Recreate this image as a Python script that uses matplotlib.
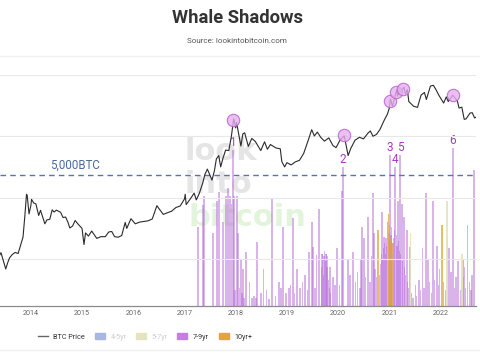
import pandas as pd
import matplotlib
matplotlib.use("Agg")
import matplotlib.pyplot as plt
import matplotlib.dates as mdates
from matplotlib.lines import Line2D
from matplotlib.patches import Patch

plt.rcParams["font.family"] = ["Roboto", "DejaVu Sans"]

# BTC price (USD)
price_dates = [
    "2013-05-25", "2013-06-01", "2013-06-15", "2013-07-05", "2013-07-20", "2013-08-01", "2013-08-20",
    "2013-09-10", "2013-10-01", "2013-10-20", "2013-11-05", "2013-11-18", "2013-11-30", "2013-12-05",
    "2013-12-18", "2013-12-31", "2014-01-05", "2014-01-20", "2014-02-05", "2014-02-25", "2014-03-10",
    "2014-03-31", "2014-04-10", "2014-04-25", "2014-05-15", "2014-06-01", "2014-06-15", "2014-07-01",
    "2014-07-31", "2014-08-18", "2014-09-05", "2014-09-22", "2014-10-05", "2014-10-25", "2014-11-12",
    "2014-12-01", "2014-12-31", "2015-01-14", "2015-01-25", "2015-02-15", "2015-03-10", "2015-04-01",
    "2015-04-15", "2015-05-15", "2015-06-15", "2015-07-10", "2015-07-31", "2015-08-20", "2015-09-15",
    "2015-10-10", "2015-11-04", "2015-11-15", "2015-12-15", "2016-01-15", "2016-02-15", "2016-03-15",
    "2016-04-15", "2016-05-15", "2016-06-17", "2016-07-01", "2016-08-02", "2016-08-31", "2016-09-30",
    "2016-10-31", "2016-11-30", "2016-12-31", "2017-01-05", "2017-01-12", "2017-02-15", "2017-03-10",
    "2017-03-25", "2017-04-15", "2017-05-10", "2017-05-25", "2017-06-12", "2017-07-15", "2017-08-01",
    "2017-08-15", "2017-09-01", "2017-09-15", "2017-10-01", "2017-10-20", "2017-11-12", "2017-11-30",
    "2017-12-17", "2017-12-31", "2018-01-06", "2018-01-20", "2018-02-06", "2018-02-20", "2018-03-05",
    "2018-03-31", "2018-04-25", "2018-05-20", "2018-06-28", "2018-07-25", "2018-08-14", "2018-09-05",
    "2018-10-15", "2018-11-14", "2018-11-25", "2018-12-15", "2018-12-31", "2019-01-31", "2019-02-28",
    "2019-03-31", "2019-04-30", "2019-05-31", "2019-06-26", "2019-07-15", "2019-08-05", "2019-08-31",
    "2019-09-25", "2019-10-26", "2019-11-25", "2019-12-17", "2020-01-15", "2020-02-13", "2020-03-12",
    "2020-03-31", "2020-04-30", "2020-05-31", "2020-06-30", "2020-07-31", "2020-08-17", "2020-09-05",
    "2020-09-30", "2020-10-25", "2020-11-25", "2020-12-17", "2020-12-31", "2021-01-08", "2021-01-22",
    "2021-02-21", "2021-02-28", "2021-03-13", "2021-03-25", "2021-04-14", "2021-04-25", "2021-05-08",
    "2021-05-19", "2021-06-22", "2021-07-20", "2021-08-14", "2021-09-07", "2021-09-21", "2021-10-20",
    "2021-11-10", "2021-11-30", "2021-12-20", "2022-01-22", "2022-02-10", "2022-02-24", "2022-03-28",
    "2022-04-30", "2022-05-12", "2022-06-01", "2022-06-18", "2022-07-01", "2022-07-29", "2022-08-14",
    "2022-08-31", "2022-09-08",
]
price_usd = [
    120, 129, 100, 70, 90, 106, 120,
    130, 125, 175, 230, 500, 1150, 1100,
    550, 750, 950, 830, 800, 520, 630,
    450, 380, 440, 450, 640, 590, 635,
    585, 480, 490, 400, 325, 350, 430,
    380, 320, 175, 270, 240, 290, 245,
    220, 235, 235, 280, 285, 235, 230,
    245, 400, 320, 460, 380, 405, 415,
    425, 455, 750, 675, 540, 575, 610,
    700, 740, 965, 1150, 780, 1000, 1200,
    930, 1180, 1750, 2400, 2950, 1950, 2750,
    4300, 4900, 3200, 4400, 6000, 5900, 10000,
    19500, 13800, 17000, 11500, 7000, 11000, 11500,
    6900, 9300, 8300, 5900, 8200, 6200, 7400,
    6500, 6300, 3900, 3200, 3750, 3450, 3850,
    4100, 5300, 8500, 12900, 10200, 11800, 9600,
    8400, 9500, 7100, 6600, 8800, 10300, 4900,
    6400, 8700, 9700, 9150, 11300, 12300, 10100,
    10800, 13000, 18500, 23000, 29000, 41000, 31000,
    57000, 45000, 61000, 52000, 63500, 49000, 58000,
    37000, 31000, 29800, 47000, 52000, 40000, 66000,
    68000, 57000, 46500, 35000, 44000, 37000, 47000,
    38000, 29000, 30000, 19000, 19300, 24000, 24400,
    20000, 20500,
]

# whale shadow bars (BTC moved), 7-9yr cohort
bars_79_dates = [
    "2017-04-06", "2017-05-12", "2017-05-19", "2017-07-22", "2017-08-19", "2017-09-03", "2017-10-01",
    "2017-10-22", "2017-11-06", "2017-11-20", "2017-12-01", "2017-12-12", "2017-12-19", "2017-12-26",
    "2018-01-09", "2018-01-16", "2018-01-25", "2018-02-07", "2018-02-14", "2018-02-21", "2018-03-01",
    "2018-03-14", "2018-04-11", "2018-04-26", "2018-05-10", "2018-05-25", "2018-06-01", "2018-06-29",
    "2018-07-20", "2018-08-08", "2018-08-25", "2018-09-16", "2018-10-10", "2018-11-04", "2018-11-20",
    "2018-12-03", "2018-12-24", "2019-01-15", "2019-01-28", "2019-02-13", "2019-02-26", "2019-03-13",
    "2019-04-03", "2019-04-20", "2019-05-09", "2019-05-25", "2019-06-07", "2019-06-28", "2019-07-05",
    "2019-07-20", "2019-08-02", "2019-08-17", "2019-09-02", "2019-09-07", "2019-09-12", "2019-09-16",
    "2019-09-21", "2019-09-26", "2019-09-30", "2019-10-06", "2019-10-10", "2019-10-14", "2019-10-19",
    "2019-10-24", "2019-10-29", "2019-11-03", "2019-11-08", "2019-11-26", "2019-12-10", "2019-12-23",
    "2020-01-10", "2020-01-28", "2020-02-04", "2020-03-11", "2020-03-25", "2020-04-16", "2020-05-05",
    "2020-05-20", "2020-06-05", "2020-06-12", "2020-06-19", "2020-07-03", "2020-07-15", "2020-07-31",
    "2020-08-15", "2020-08-25", "2020-09-06", "2020-09-12", "2020-09-20", "2020-10-01", "2020-10-20",
    "2020-10-28", "2020-11-03", "2020-11-08", "2020-11-14", "2020-11-18", "2020-11-23", "2020-11-28",
    "2020-12-03", "2020-12-08", "2020-12-13", "2020-12-28", "2021-01-02", "2021-01-05", "2021-01-12",
    "2021-01-17", "2021-01-20", "2021-02-01", "2021-02-05", "2021-02-10", "2021-02-18", "2021-02-23",
    "2021-03-03", "2021-03-08", "2021-03-12", "2021-03-17", "2021-03-22", "2021-03-31", "2021-04-05",
    "2021-04-15", "2021-04-20", "2021-04-25", "2021-05-06", "2021-05-12", "2021-05-18", "2021-05-27",
    "2021-06-05", "2021-06-18", "2021-07-05", "2021-07-15", "2021-07-30", "2021-08-10", "2021-08-25",
    "2021-09-05", "2021-09-18", "2021-10-03", "2021-10-15", "2021-10-25", "2021-11-07", "2021-11-20",
    "2021-12-06", "2021-12-15", "2021-12-25", "2022-01-20", "2022-02-05", "2022-03-01", "2022-03-15",
    "2022-03-30", "2022-04-10", "2022-04-20", "2022-05-05", "2022-05-20", "2022-06-01", "2022-06-20",
    "2022-06-28", "2022-07-14", "2022-07-25", "2022-08-05", "2022-08-12", "2022-08-26",
]
bars_79_btc = [
    3000, 3850, 4200, 2800, 4000, 4350, 3200,
    4200, 4500, 4200, 3900, 5950, 4200, 600,
    4200, 2800, 700, 1750, 500, 1400, 300,
    2050, 900, 300, 400, 300, 2450, 500,
    1400, 600, 250, 4100, 400, 900, 700,
    3000, 500, 700, 800, 3350, 500, 1400,
    700, 900, 1200, 600, 2050, 3200, 2250,
    700, 1950, 3700, 1500, 2000, 2000, 1200,
    1900, 2100, 1700, 2000, 2000, 1500, 1900,
    1000, 700, 1500, 500, 1100, 800, 2200,
    800, 4400, 5300, 1750, 1200, 2050, 900,
    1300, 700, 1800, 3000, 2600, 1100, 3400,
    900, 1900, 4300, 2800, 1400, 1100, 1200,
    1600, 2000, 3600, 1800, 2200, 2650, 2400,
    2000, 2600, 2300, 2800, 2500, 5760, 2700,
    3000, 2400, 2600, 2900, 5300, 2700, 2300,
    4000, 2500, 2100, 5760, 2000, 3900, 1700,
    3400, 1500, 1200, 2900, 900, 700, 2250,
    500, 300, 800, 400, 1000, 600, 2200,
    700, 4300, 1750, 900, 500, 4000, 1000,
    2300, 800, 1400, 900, 600, 2200, 1300,
    6030, 700, 1100, 1700, 600, 1000, 1500,
    700, 3100, 900, 600, 1200, 5200,
]

# 10yr+ cohort
bars_10_dates = ["2020-10-11", "2020-12-18", "2020-12-24", "2020-12-30", "2021-01-08", "2021-01-26",
                 "2022-01-10", "2022-02-20", "2022-06-09", "2022-06-15"]
bars_10_btc = [2900, 3200, 3500, 3100, 2600, 2400, 3100, 2600, 1800, 1100]

# 5-7yr cohort
bars_57_dates = ["2021-05-30", "2022-02-15", "2022-06-02"]
bars_57_btc = [2800, 4000, 2000]

# marked peaks
peak_labels = ["1", "2", "3", "4", "5", "6"]
peak_dates = ["2017-12-12", "2020-02-04", "2021-01-05", "2021-02-10", "2021-03-17", "2022-03-30"]
peak_btc = [5950, 5300, 5760, 5300, 5760, 6030]
circle_dates = ["2017-12-12", "2020-02-10", "2021-01-05", "2021-02-15", "2021-04-10", "2022-03-30"]
circle_prices = [18500, 10500, 38000, 52000, 60000, 47000]

c_79 = "#c77de6"
c_10 = "#e3a43c"
c_57 = "#e6e3c0"
c_45 = "#a9b6e2"

fig = plt.figure(figsize=(4.8, 3.6), dpi=100)
ax = fig.add_axes([0, 1 - 306 / 360, 476 / 480, 231 / 360])
ax2 = ax.twinx()

# watermark
wm = dict(transform=ax.transAxes, fontsize=22, fontweight="bold", family="DejaVu Sans", zorder=0)
ax.text(0.388, 0.632, "look", color="#e5e5e5", **wm)
ax.text(0.388, 0.489, "into", color="#e5e5e5", **wm)
ax.text(0.395, 0.346, "bitcoin", color="#e2f4db", **wm)

w = 9
ax.bar(pd.to_datetime(bars_79_dates), bars_79_btc, width=w, color="#b56ad8", alpha=0.5,
       linewidth=0, zorder=2)
ax.bar(pd.to_datetime(bars_10_dates), bars_10_btc, width=w, color=c_10, alpha=0.75,
       linewidth=0, zorder=2)
ax.bar(pd.to_datetime(bars_57_dates), bars_57_btc, width=w, color=c_57, alpha=0.9,
       linewidth=0, zorder=2)

ax.axhline(5000, color="#5f72a8", lw=1.0, ls=(0, (4, 3)), zorder=3)
ax.text(pd.Timestamp("2014-11-10"), 5120, "5,000BTC", color="#4d68a0", fontsize=8.3,
        ha="center", va="bottom")

for lab, d, h in zip(peak_labels, peak_dates, peak_btc):
    ax.annotate(lab, (pd.Timestamp(d), h), xytext=(0, 0.5), textcoords="offset points",
                ha="center", va="bottom", fontsize=8.5, color="#a43bbb", zorder=6)

ax.set_ylim(0, 8820)
ax.set_xlim(pd.Timestamp("2013-05-25"), pd.Timestamp("2022-09-10"))
ax.set_yticks([])

ax2.plot(pd.to_datetime(price_dates), price_usd, color="#2b2b2b", lw=0.8, zorder=4)
ax2.scatter(pd.to_datetime(circle_dates), circle_prices, s=80, facecolor="#e8b0f2",
            edgecolor="#b45cc9", linewidth=0.8, alpha=0.8, zorder=5)
ax2.set_yscale("log")
ax2.set_ylim(17.5, 100000)
ax2.set_yticks([100, 1000, 10000, 100000])
ax2.yaxis.set_minor_locator(matplotlib.ticker.NullLocator())
ax2.grid(axis="y", color="#e8e8e8", lw=0.8)
ax2.tick_params(axis="y", length=0, labelright=False)

for a in (ax, ax2):
    for s in ("top", "left", "right"):
        a.spines[s].set_visible(False)
    a.spines["bottom"].set_color("#8a8a8a")

ax.xaxis.set_major_locator(mdates.YearLocator())
ax.xaxis.set_major_formatter(mdates.DateFormatter("%Y"))
ax.tick_params(axis="x", length=0, labelsize=5.2, labelcolor="#666666", pad=3)

fig.text(0.494, 1 - 18 / 360, "Whale Shadows", ha="center", va="center", fontsize=13.2,
         fontweight="bold", color="#333333")
fig.text(0.494, 1 - 41 / 360, "Source: lookintobitcoin.com", ha="center", va="center",
         fontsize=5.8, color="#555555")

fig.add_artist(Line2D([0, 1], [1 - 55.5 / 360] * 2, color="#f0f0f0", lw=1))
fig.add_artist(Line2D([0, 1], [1 - 350 / 360] * 2, color="#f0f0f0", lw=1))

handles = [
    Line2D([], [], color="#666666", lw=1),
    Patch(color=c_45),
    Patch(color=c_57),
    Patch(color=c_79),
    Patch(color=c_10),
]
labels = ["BTC Price", "4-5yr", "5-7yr", "7-9yr", "10yr+"]
leg = fig.legend(handles, labels, loc="center", bbox_to_anchor=(145 / 480, 1 - 337 / 360),
                 ncol=5, frameon=False, fontsize=5.2, handlelength=1.4, handleheight=0.9,
                 columnspacing=1.3, handletextpad=0.8)
for t, c in zip(leg.get_texts(), ["#333333", "#cccccc", "#cccccc", "#333333", "#333333"]):
    t.set_color(c)

fig.savefig("out.png", dpi=100)
